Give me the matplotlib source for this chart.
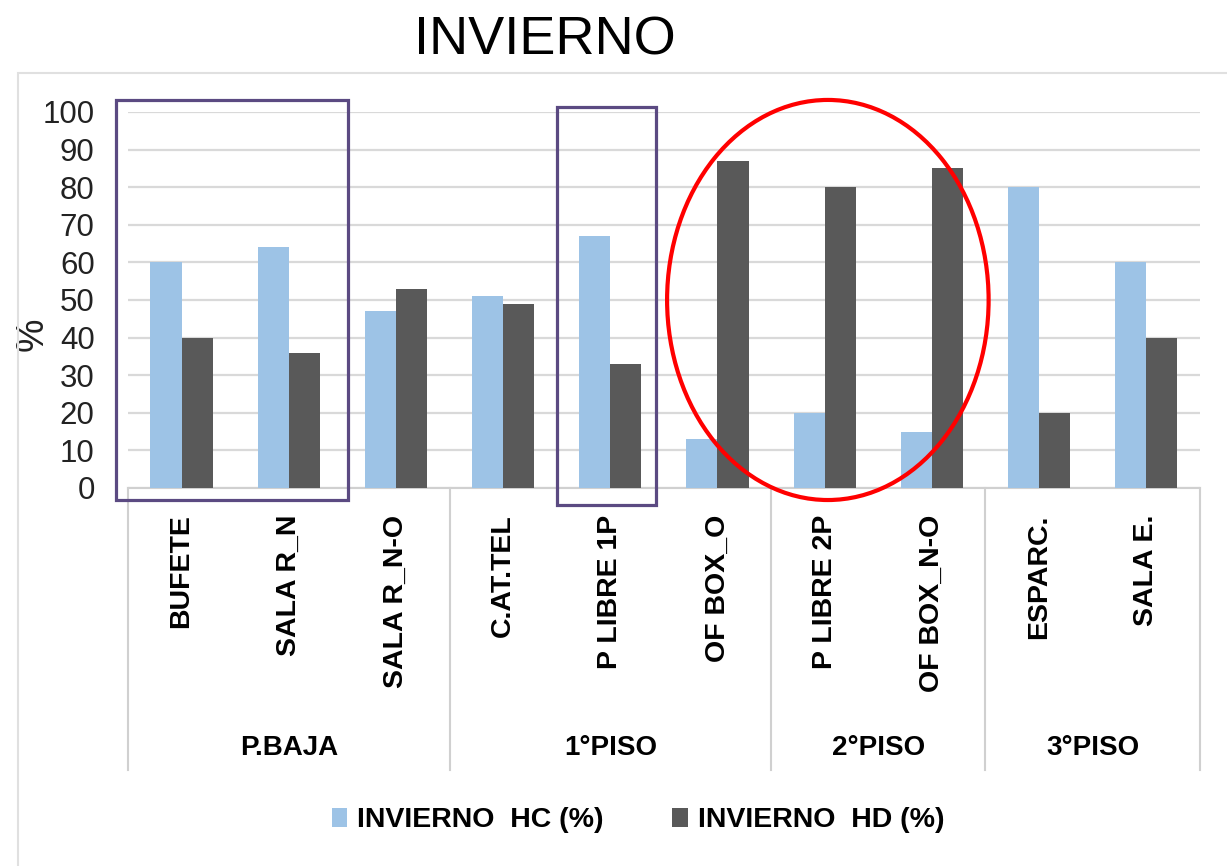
import matplotlib
matplotlib.use("Agg")
import matplotlib.pyplot as plt
import numpy as np
from matplotlib.patches import Rectangle, Ellipse

# Datos por local
locales = ['BUFETE', 'SALA R_N', 'SALA R_N-O', 'C.AT.TEL', 'P LIBRE 1P',
           'OF BOX_O', 'P LIBRE 2P', 'OF BOX_N-O', 'ESPARC.', 'SALA E.']
pisos = ['P.BAJA', '1°PISO', '2°PISO', '3°PISO']
locales_por_piso = [3, 3, 2, 2]
hc = [60, 64, 47, 51, 67, 13, 20, 15, 80, 60]
hd = [40, 36, 53, 49, 33, 87, 80, 85, 20, 40]
serie_hc = 'INVIERNO  HC (%)'
serie_hd = 'INVIERNO  HD (%)'

plt.rcParams['font.family'] = ['Liberation Sans', 'DejaVu Sans']

fig = plt.figure(figsize=(12.27, 8.66), dpi=100)
ax = fig.add_axes([0.1043, 0.4365, 0.8735, 0.4342])

x = np.arange(len(locales))
w = 0.29
ax.bar(x - w / 2, hc, w, color='#9DC3E6', label=serie_hc, zorder=3)
ax.bar(x + w / 2, hd, w, color='#595959', label=serie_hd, zorder=3)

ax.set_xlim(-0.5, len(locales) - 0.5)
ax.set_ylim(0, 100)
ax.set_yticks(range(0, 101, 10))
ax.tick_params(axis='y', length=0, pad=24, labelsize=22.5, labelcolor='#222222')
ax.yaxis.grid(True, color='#d9d9d9', linewidth=1.6, zorder=0)
ax.set_ylabel('%', fontsize=27, color='#222222')
ax.yaxis.set_label_coords(-0.072, 0.41)

ax.set_xticks(x)
ax.set_xticklabels(locales, rotation=90, fontsize=20.5, fontweight='bold',
                   va='top', ha='center')
ax.tick_params(axis='x', length=0, pad=19)

for s in ['top', 'right', 'left']:
    ax.spines[s].set_visible(False)
ax.spines['bottom'].set_color('#d0d0d0')
ax.spines['bottom'].set_linewidth(1.5)

# Separadores y nombres de piso bajo el eje
tr = ax.get_xaxis_transform()
bordes = np.concatenate([[0], np.cumsum(locales_por_piso)]) - 0.5
for b in bordes:
    ax.plot([b, b], [0, -0.75], transform=tr, color='#d0d0d0', lw=1.5,
            clip_on=False)
for i, p in enumerate(pisos):
    ax.text((bordes[i] + bordes[i + 1]) / 2, -0.691, p, transform=tr,
            ha='center', va='center', fontsize=20, fontweight='bold')

# Marcas de resaltado
morado = '#5B4A82'
ax.add_patch(Rectangle((-0.612, -3.2), 2.164, 106.4, fill=False,
                       edgecolor=morado, lw=2.3, clip_on=False, zorder=5))
ax.add_patch(Rectangle((3.50, -4.5), 0.925, 105.8, fill=False,
                       edgecolor=morado, lw=2.3, clip_on=False, zorder=5))
ax.add_patch(Ellipse((6.03, 50), 3.0, 106.4, fill=False, edgecolor='#FF0000',
                     lw=3, clip_on=False, zorder=5))

# Marco exterior
fig.add_artist(Rectangle((18 / 1227, -0.1), 1.2, 1 - 73 / 866 + 0.1,
                         transform=fig.transFigure, fill=False,
                         edgecolor='#e0e0e0', lw=1.5))

fig.text(0.444, 0.953, 'INVIERNO', ha='center', va='center', fontsize=39)

fig.legend(loc='center', bbox_to_anchor=(0.52, 0.053), ncol=2, frameon=False,
           prop={'size': 20.5, 'weight': 'bold'}, handlelength=0.55,
           handleheight=0.65, handletextpad=0.35, columnspacing=2.4)

fig.savefig('out.png', dpi=100)
